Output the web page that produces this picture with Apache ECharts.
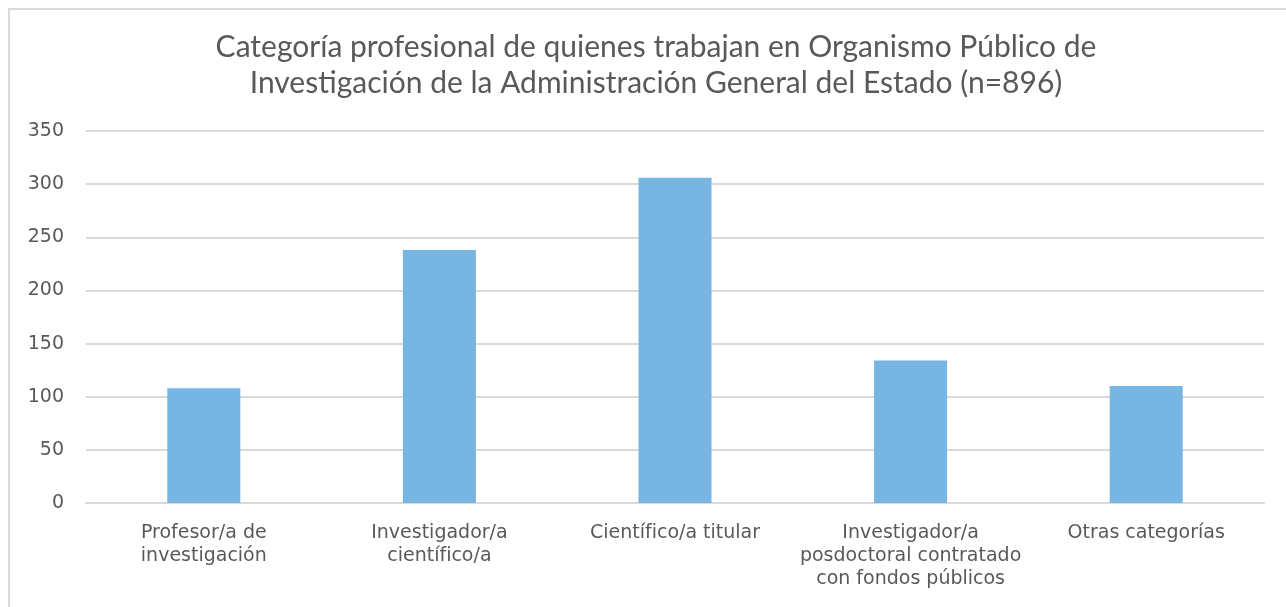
<!DOCTYPE html>
<html lang="es">
<head>
    <meta charset="UTF-8">
    <title>Categoría profesional</title>
    <script src="https://cdn.jsdelivr.net/npm/echarts@6/dist/echarts.min.js"></script>
    <style>
        body {
            margin: 0;
            background: #fff;
        }
        #chart {
            position: absolute;
            left: 0;
            top: 0;
            width: 1286px;
            height: 607px;
        }
        #frame {
            position: absolute;
            left: 8px;
            top: 8px;
            width: 1300px;
            height: 620px;
            border-left: 2px solid #d9d9d9;
            border-top: 2px solid #d9d9d9;
        }
    </style>
</head>
<body>
<div id="frame"></div>
<div id="chart"></div>

<script>
    // datos
    var categorias = [
        'Profesor/a de\ninvestigación',
        'Investigador/a\ncientífico/a',
        'Científico/a titular',
        'Investigador/a\nposdoctoral contratado\ncon fondos públicos',
        'Otras categorías'
    ];
    var valores = [108, 238, 306, 134, 110];

    var fuenteTitulo = 'Lato, "Noto Sans", sans-serif';
    var fuente = '"DejaVu Sans", sans-serif';
    var chart = echarts.init(document.getElementById('chart'));

    var option = {
        animation: false,
        title: {
            text: 'Categoría profesional de quienes trabajan en Organismo Público de\nInvestigación de la Administración General del Estado (n=896)',
            left: 651,
            textAlign: 'center',
            top: 24,
            textStyle: {
                fontFamily: fuenteTitulo,
                fontWeight: 'normal',
                fontSize: 30,
                lineHeight: 36,
                color: '#595959'
            }
        },
        grid: {
            left: 86,
            right: 22,
            top: 131,
            bottom: 104
        },
        xAxis: {
            type: 'category',
            data: categorias,
            axisLine: { lineStyle: { color: '#d9d9d9', width: 2 } },
            axisTick: { show: false },
            axisLabel: {
                interval: 0,
                margin: 19,
                fontFamily: fuente,
                fontSize: 19,
                lineHeight: 23,
                color: '#595959'
            }
        },
        yAxis: {
            type: 'value',
            min: 0,
            max: 350,
            interval: 50,
            axisLine: { show: false },
            axisTick: { show: false },
            splitLine: { lineStyle: { color: '#d9d9d9', width: 2 } },
            axisLabel: {
                margin: 22,
                fontFamily: fuente,
                fontSize: 19,
                color: '#595959'
            }
        },
        series: [{
            type: 'bar',
            data: valores,
            barWidth: '31%',
            itemStyle: { color: '#77b5e3' }
        }]
    };

    chart.setOption(option);
</script>
</body>
</html>
